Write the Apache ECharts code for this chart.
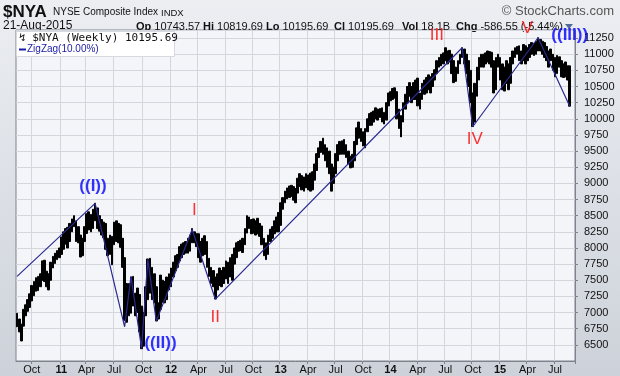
<!DOCTYPE html>
<html>
<head>
<meta charset="utf-8">
<script src="https://cdn.jsdelivr.net/npm/echarts@6/dist/echarts.min.js"></script>
<style>
  html, body { margin: 0; padding: 0; background: #fff; }
  #chart { width: 620px; height: 376px; }
</style>
</head>
<body>
<div id="chart"></div>
<script>
// first weekly bar (Friday) and empty weeks kept at the right edge
const firstWeek = Date.UTC(2010, 7, 13);
const blankWeeks = 2;

// weekly lows / highs of $NYA
const weeklyLow = [
  6780, 6700, 6560, 6790, 6950, 7020, 7080, 7180, 7260, 7330,
  7340, 7400, 7500, 7480, 7400, 7350, 7500, 7690, 7760, 7820,
  7850, 7900, 7980, 8060, 8000, 8100, 8250, 8330, 8100, 8080,
  7860, 7880, 8100, 8225, 8280, 8250, 8300, 8420, 8300, 8260,
  8200, 8160, 7980, 7880, 7900, 7740, 8050, 8100, 8080, 8010,
  7700, 6880, 6850, 6950, 6990, 7100, 6950, 7000, 6700, 6440,
  6480, 6950, 7200, 7300, 7200, 7150, 6870, 6900, 7050, 7160,
  7150, 7200, 7350, 7400, 7550, 7650, 7700, 7800, 7850, 7900,
  7920, 7920, 7950, 8080, 8080, 8020, 7850, 7780, 7880, 7900,
  7700, 7560, 7450, 7400, 7210, 7350, 7420, 7400, 7450, 7520,
  7450, 7550, 7500, 7750, 7850, 7950, 7960, 7930, 8050, 8230,
  8300, 8220, 8230, 8200, 8220, 8180, 8050, 7880, 7820, 7900,
  8100, 8150, 8220, 8250, 8250, 8350, 8600, 8700, 8760, 8780,
  8800, 8740, 8700, 8850, 8950, 8900, 8880, 8930, 8900, 8880,
  8900, 9050, 9200, 9400, 9480, 9450, 9350, 9250, 9150, 8880,
  9000, 9150, 9350, 9450, 9450, 9450, 9400, 9300, 9240, 9250,
  9350, 9600, 9700, 9650, 9580, 9550, 9800, 9900, 9900, 9950,
  10000, 9980, 10020, 9950, 9920, 9980, 10200, 10280, 10300, 10320,
  10000, 9850, 9720, 9950, 10150, 10250, 10350, 10250, 10300, 10300,
  10200, 10150, 10300, 10380, 10400, 10450, 10400, 10500, 10600, 10700,
  10800, 10820, 10850, 10900, 10850, 10880, 10700, 10560, 10580, 10700,
  10850, 10950, 10850, 10700, 10500, 10250, 9880, 9950, 10350, 10600,
  10800, 10800, 10850, 10880, 10850, 10800, 10400, 10450, 10800, 10600,
  10450, 10430, 10550, 10450, 10550, 10850, 10950, 11000, 10900, 10850,
  10900, 10850, 10900, 10950, 11000, 10980, 11000, 11050, 11050, 11000,
  10950, 10900, 10800, 10900, 10750, 10650, 10700, 10800, 10650, 10640,
  10650, 10600, 10195
];
const weeklyHigh = [
  6990, 6900, 6820, 7050, 7120, 7200, 7290, 7420, 7480, 7540,
  7560, 7600, 7800, 7810, 7640, 7600, 7780, 7870, 7920, 7960,
  8000, 8170, 8250, 8300, 8320, 8380, 8450, 8500, 8420, 8330,
  8200, 8150, 8330, 8530, 8560, 8520, 8600, 8693, 8620, 8500,
  8440, 8400, 8380, 8150, 8200, 8180, 8400, 8420, 8380, 8360,
  8150, 7850, 7450, 7450, 7550, 7560, 7300, 7380, 7280, 7100,
  7000, 7400, 7830, 7840, 7700, 7600, 7400, 7150, 7580, 7500,
  7480, 7550, 7600, 7690, 7780, 7880, 7900, 8020, 8060, 8080,
  8100, 8150, 8200, 8300, 8250, 8220, 8220, 8100, 8150, 8190,
  8100, 7840, 7700, 7650, 7550, 7600, 7690, 7650, 7700, 7800,
  7780, 7850, 7900, 8000, 8080, 8100, 8120, 8150, 8300, 8500,
  8480, 8440, 8450, 8420, 8460, 8380, 8340, 8150, 8080, 8200,
  8290, 8330, 8420, 8480, 8550, 8700, 8780, 8880, 8930, 8960,
  8970, 8950, 8920, 9080, 9150, 9120, 9100, 9150, 9130, 9160,
  9180, 9300, 9460, 9550, 9650, 9700, 9600, 9550, 9500, 9300,
  9250, 9460, 9600, 9650, 9660, 9680, 9600, 9500, 9420, 9450,
  9650, 9860, 9950, 9850, 9800, 9850, 10000, 10080, 10100, 10120,
  10170, 10150, 10160, 10170, 10100, 10250, 10400, 10420, 10470, 10480,
  10420, 10150, 10050, 10250, 10380, 10500, 10560, 10500, 10560, 10600,
  10630, 10400, 10550, 10600, 10640, 10680, 10650, 10700, 10760, 10900,
  10950, 11000, 11020, 11100, 11050, 11060, 11000, 10900, 10800, 10900,
  11000, 11100, 11080, 11000, 10900, 10750, 10400, 10550, 10800, 10950,
  11000, 11000, 11020, 11050, 11040, 11030, 10900, 10950, 11000, 10950,
  10850, 10800, 10900, 10850, 10950, 11050, 11100, 11120, 11130, 11050,
  11150, 11130, 11100, 11150, 11180, 11170, 11200, 11255, 11230, 11200,
  11180, 11120, 11050, 11080, 11000, 10950, 10980, 10960, 10900, 10850,
  10880, 10820, 10820
];

// ZigZag(10%) pivots: week index and value
const zigzagIdx = [0, 37, 51, 54, 59, 62, 66, 83, 94, 211, 216, 247, 262];
const zigzagVal = [7560, 8690, 6780, 7560, 6450, 7824, 6867, 8287, 7207, 11100, 9877, 11255, 10195];

// Elliott wave annotations: text, week index, value at the text centre
const waveText = ['((I))', '((II))', 'I', 'II', 'III', 'IV', 'V', '((III))'];
const waveIdx = [36, 68, 84, 94, 199, 217, 242, 262];
const waveVal = [8950, 6530, 8580, 6930, 11296, 9690, 11400, 11290];
const waveBlue = [true, true, false, false, false, false, false, true];

// header quote line: label, value, x position
const quoteLabels = ['Op', 'Hi', 'Lo', 'Cl', 'Vol', 'Chg'];
const quoteValues = ['10743.57', '10819.69', '10195.69', '10195.69', '18.1B', '-586.55 (-5.44%)'];
const quoteX = [136, 203, 266, 334, 402, 456];

const monthNames = ['Jan', 'Feb', 'Mar', 'Apr', 'May', 'Jun', 'Jul', 'Aug', 'Sep', 'Oct', 'Nov', 'Dec'];

// 分类轴：每周一个日期
const weekDates = [];
for (let i = 0; i < weeklyLow.length + blankWeeks; i++) {
  weekDates.push(new Date(firstWeek + i * 7 * 86400000).toISOString().slice(0, 10));
}

// 季度首周 (Jan/Apr/Jul/Oct)
function quarterStart(index, value) {
  const m = +value.slice(5, 7), d = +value.slice(8, 10);
  return (m === 1 || m === 4 || m === 7 || m === 10) && d <= 7;
}

const barData = weeklyLow.map((lo, i) => [lo, weeklyHigh[i], lo, weeklyHigh[i]]);

const zigzagData = weekDates.map(() => null);
zigzagIdx.forEach((k, j) => { zigzagData[k] = zigzagVal[j]; });

const waveData = waveText.map((t, j) => ({
  value: [waveIdx[j], waveVal[j]],
  label: {
    formatter: t,
    color: waveBlue[j] ? '#0000ff' : '#ff0000',
    fontWeight: waveBlue[j] ? 'bold' : 'normal',
    fontSize: 17
  }
}));

const font = 'Liberation Sans';

// 页眉文字
const headerGraphics = [
  { type: 'text', left: 3, top: 4, style: { text: '$NYA', font: 'bold 17px "Liberation Sans"', fill: '#111' } },
  { type: 'text', left: 53, top: 7, style: { text: 'NYSE Composite Index', font: '10px "Liberation Sans"', fill: '#111' } },
  { type: 'text', left: 161, top: 8, style: { text: 'INDX', font: '9.5px "Liberation Sans"', fill: '#111' } },
  { type: 'text', right: 6, top: 5, style: { text: '\u00A9 StockCharts.com', font: '13px "Liberation Sans"', fill: '#555' } },
  { type: 'text', left: 3, top: 20, style: { text: '21-Aug-2015', font: '12px "Liberation Sans"', fill: '#111' } },
  { type: 'polygon', shape: { points: [[565, 24], [573, 24], [569, 29]] }, style: { fill: '#4d6b95' } }
];
quoteLabels.forEach((lab, j) => {
  headerGraphics.push({
    type: 'text', left: quoteX[j], top: 21,
    style: {
      text: '{b|' + lab + '} ' + quoteValues[j],
      font: '11px "Liberation Sans"', fill: '#111',
      rich: { b: { font: 'bold 11px "Liberation Sans"', fill: '#111' } }
    }
  });
});
// 图例框
headerGraphics.push(
  { type: 'rect', z: 20, shape: { x: 16.5, y: 31.5, width: 158, height: 25 }, style: { fill: '#ffffff', stroke: '#d6d9df' } },
  { type: 'text', z: 21, x: 19, y: 33, style: { text: '\u21AF $NYA (Weekly) 10195.69', font: '11px "DejaVu Sans Mono"', fill: '#111' } },
  { type: 'line', z: 21, shape: { x1: 19, y1: 49.5, x2: 26, y2: 49.5 }, style: { stroke: '#1a1aa8', lineWidth: 2 } },
  { type: 'text', z: 21, x: 27, y: 44, style: { text: 'ZigZag(10.00%)', font: '10px "Liberation Sans"', fill: '#1a1aa8' } }
);

const chart = echarts.init(document.getElementById('chart'), null, { renderer: 'canvas' });

const axisGray = '#7d828c';
const gridGray = '#d3d6dd';

chart.setOption({
  animation: false,
  backgroundColor: {
    type: 'linear', x: 0, y: 0, x2: 0, y2: 1,
    colorStops: [{ offset: 0, color: '#eceef2' }, { offset: 1, color: '#cdd2da' }]
  },
  grid: {
    left: 16, right: 45, top: 30, bottom: 15,
    show: true, backgroundColor: '#f4f5f9', borderColor: axisGray, borderWidth: 1
  },
  xAxis: {
    type: 'category',
    data: weekDates,
    boundaryGap: true,
    axisLine: { lineStyle: { color: axisGray } },
    axisTick: { show: true, interval: quarterStart, length: 3, lineStyle: { color: axisGray } },
    axisLabel: {
      interval: quarterStart,
      margin: 3,
      color: '#111',
      fontSize: 11,
      fontFamily: font,
      formatter: (v) => {
        const m = +v.slice(5, 7);
        return m === 1 ? '{yr|' + v.slice(2, 4) + '}' : monthNames[m - 1];
      },
      rich: { yr: { fontWeight: 'bold', fontSize: 11, fontFamily: font, color: '#111' } }
    },
    splitLine: { show: true, interval: quarterStart, lineStyle: { color: gridGray } }
  },
  yAxis: {
    type: 'value',
    position: 'right',
    min: 6250,
    max: 11375,
    interval: 250,
    axisLine: { show: true, lineStyle: { color: axisGray } },
    axisTick: { show: true, length: 3, lineStyle: { color: axisGray } },
    axisLabel: {
      showMinLabel: false, showMaxLabel: false,
      margin: 9, color: '#111', fontSize: 11, fontFamily: font,
      formatter: (v) => String(v)
    },
    splitLine: { show: true, lineStyle: { color: gridGray } }
  },
  series: [
    {
      name: '$NYA',
      type: 'candlestick',
      data: barData,
      barWidth: 2.2,
      itemStyle: { color: '#000', color0: '#000', borderColor: '#000', borderColor0: '#000', borderWidth: 1 },
      z: 3
    },
    {
      name: 'ZigZag',
      type: 'line',
      data: zigzagData,
      connectNulls: true,
      showSymbol: false,
      symbol: 'none',
      lineStyle: { color: '#2a2a8f', width: 1.2 },
      z: 4
    },
    {
      name: 'waves',
      type: 'scatter',
      data: waveData,
      symbolSize: 1,
      clip: false,
      itemStyle: { color: 'rgba(0,0,0,0)' },
      label: { show: true, position: 'inside', fontFamily: font },
      z: 6
    }
  ],
  graphic: headerGraphics
});
</script>
</body>
</html>
